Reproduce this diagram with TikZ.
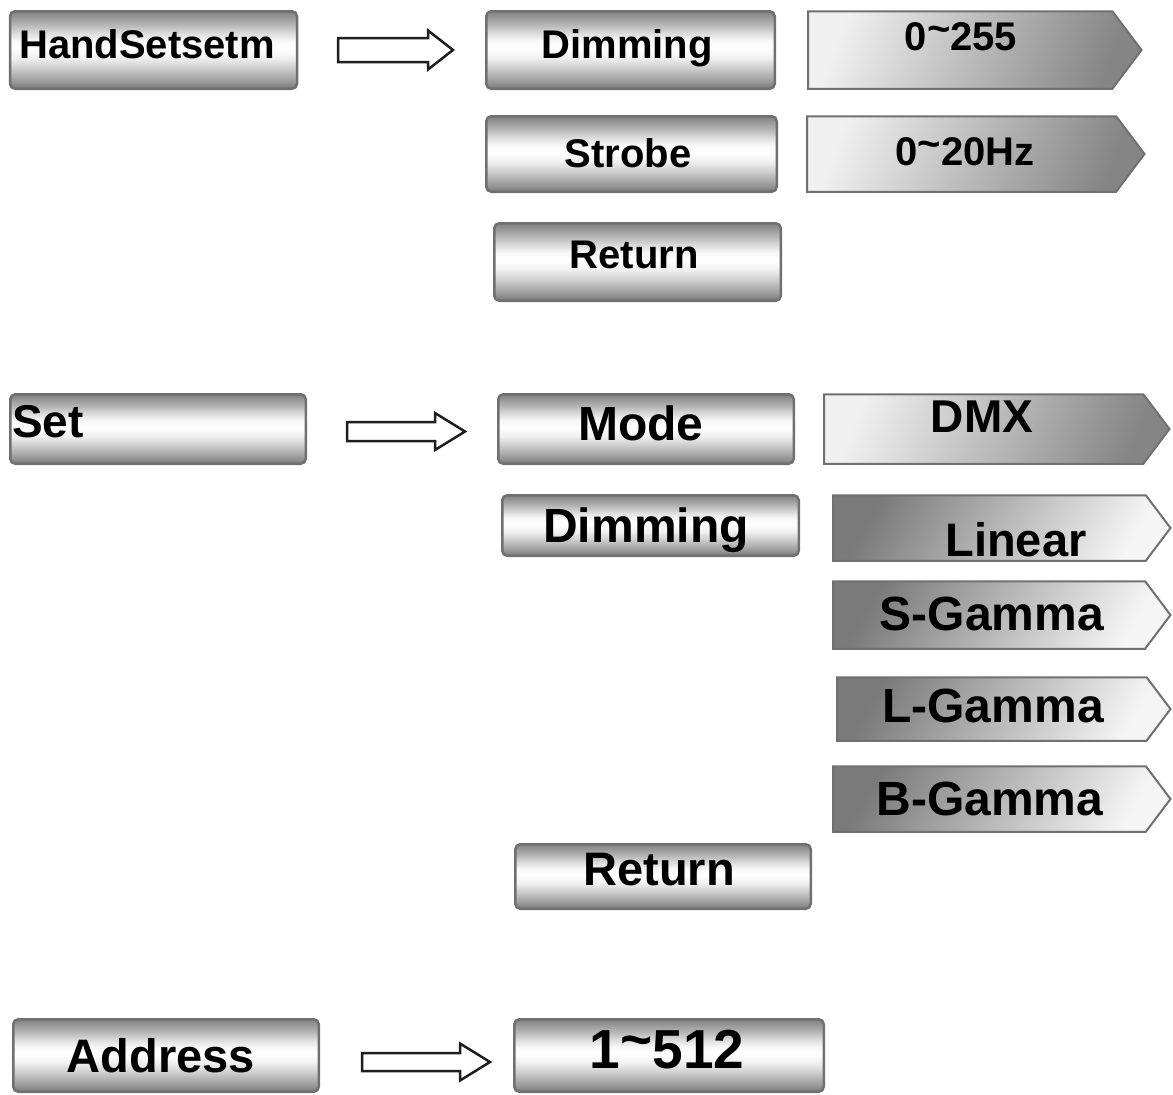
\documentclass[tikz,border=0pt]{standalone}
\usepackage{fontspec}
\setmainfont{Liberation Sans}
\usetikzlibrary{shapes.symbols,calc}
\definecolor{bord}{RGB}{112,112,112}
\definecolor{blk}{RGB}{30,30,30}
\pgfdeclareverticalshading{btnshade}{100bp}{rgb(0bp)=(0.45,0.45,0.45); rgb(25bp)=(0.45,0.45,0.45); rgb(28bp)=(0.56,0.56,0.56); rgb(33bp)=(0.68,0.68,0.68); rgb(39bp)=(0.82,0.82,0.82); rgb(45bp)=(0.94,0.94,0.94); rgb(51bp)=(1,1,1); rgb(56bp)=(0.97,0.97,0.97); rgb(61bp)=(0.86,0.86,0.86); rgb(66bp)=(0.72,0.72,0.72); rgb(71bp)=(0.6,0.6,0.6); rgb(75bp)=(0.5,0.5,0.5); rgb(100bp)=(0.5,0.5,0.5)}
\newcommand\fsz[1]{\fontsize{#1}{#1}\selectfont\bfseries}
\newcommand\tld{\raisebox{0.18em}{\textasciitilde}}
\begin{document}
\begin{tikzpicture}[x=1pt,y=-1pt,
  btn/.style={rectangle, draw=bord, line width=2.5pt, rounded corners=5pt, shading=btnshade, inner sep=0pt},
  sigA/.style={signal, signal to=east, signal pointer angle=106, draw=bord, line width=2pt, inner sep=0pt, anchor=west,
     left color=white!94!black, right color=black!48, shading angle=70},
  sigB/.style={signal, signal to=east, signal pointer angle=106, draw=bord, line width=2pt, inner sep=0pt, anchor=west,
     left color=black!52, right color=white!96!black, shading angle=60},
  txt/.style={inner sep=0pt, anchor=base, text=black},
  blkarrow/.style={draw=blk, line width=2.5pt, fill=white, line join=miter}]
\useasboundingbox (0,0) rectangle (1173,1095);

% ---- row 1
\node[btn, minimum width=287pt, minimum height=77.5pt] (hs) at (153.5,50) {};
\node[txt, font=\fsz{40}] (hs-t) at (147,58) {HandSetsetm};
\node[btn, minimum width=288.5pt, minimum height=77.5pt] (dim1) at (630.5,50) {};
\node[txt, font=\fsz{40}] (dim1-t) at (627,58) {Dimming};
\node[sigA, minimum width=333.5pt, minimum height=77.5pt] (v255) at (807,50) {};
\node[txt, font=\fsz{40}] (v255-t) at (961,50) {0\tld 255};
\node[btn, minimum width=290.5pt, minimum height=75.5pt] (strobe) at (631.5,154) {};
\node[txt, font=\fsz{40}] (strobe-t) at (628,167) {Strobe};
\node[sigA, minimum width=337.5pt, minimum height=75.5pt] (v20) at (806,154) {};
\node[txt, font=\fsz{40}] (v20-t) at (965,165) {0\tld 20Hz};
\node[btn, minimum width=286.5pt, minimum height=77.5pt] (ret1) at (637.5,262) {};
\node[txt, font=\fsz{40}] (ret1-t) at (634,268) {Return};

% ---- row 2
\node[btn, minimum width=295.5pt, minimum height=69.5pt] (set) at (158,429) {};
\node[txt, anchor=base west, font=\fsz{46}] (set-t) at (12,437) {Set};
\node[btn, minimum width=295.5pt, minimum height=69.5pt] (mode) at (646,429) {};
\node[txt, font=\fsz{48}] (mode-t) at (641,440) {Mode};
\node[sigA, minimum width=345.5pt, minimum height=69.5pt] (dmx) at (823,429) {};
\node[txt, font=\fsz{46}] (dmx-t) at (982,432) {DMX};
\node[btn, minimum width=296.5pt, minimum height=60.5pt] (dim2) at (650.5,525.5) {};
\node[txt, font=\fsz{48}] (dim2-t) at (646,542) {Dimming};
\node[sigB, minimum width=337.5pt, minimum height=65.5pt] (lin) at (832,528) {};
\node[txt, font=\fsz{47}] (lin-t) at (1016,556) {Linear};
\node[sigB, minimum width=337.5pt, minimum height=67.5pt] (sg) at (832,615) {};
\node[txt, font=\fsz{48}] (sg-t) at (992,630) {S-Gamma};
\node[sigB, minimum width=333.5pt, minimum height=63.5pt] (lg) at (836,709) {};
\node[txt, font=\fsz{48}] (lg-t) at (993,722) {L-Gamma};
\node[sigB, minimum width=337.5pt, minimum height=65.5pt] (bg) at (832,799) {};
\node[txt, font=\fsz{48}] (bg-t) at (990,815) {B-Gamma};
\node[btn, minimum width=295.5pt, minimum height=64.5pt] (ret2) at (663,876.5) {};
\node[txt, font=\fsz{47}] (ret2-t) at (659,885) {Return};

% ---- row 3
\node[btn, minimum width=305.5pt, minimum height=72.5pt] (addr) at (166,1055.5) {};
\node[txt, font=\fsz{47}] (addr-t) at (161,1072) {Address};
\node[btn, minimum width=309.5pt, minimum height=72.5pt] (r512) at (669,1055.5) {};
\node[txt, font=\fsz{55}] (r512-t) at (667,1068) {1\tld 512};

% ---- block arrows
\coordinate (a1) at (338,50);
\coordinate (a2) at (347,431.5);
\coordinate (a3) at (362,1062);
\draw[blkarrow] (a1) ++(0,-12) -- ++(90,0) -- ++(0,-7.5) -- ++(25,19.5) -- ++(-25,19.5) -- ++(0,-7.5) -- ++(-90,0) -- cycle;
\draw[blkarrow] (a2) ++(0,-9.5) -- ++(88,0) -- ++(0,-9) -- ++(30,18.5) -- ++(-30,18.5) -- ++(0,-9) -- ++(-88,0) -- cycle;
\draw[blkarrow] (a3) ++(0,-9) -- ++(98,0) -- ++(0,-9.5) -- ++(30,18.5) -- ++(-30,18.5) -- ++(0,-9.5) -- ++(-98,0) -- cycle;
\end{tikzpicture}
\end{document}
